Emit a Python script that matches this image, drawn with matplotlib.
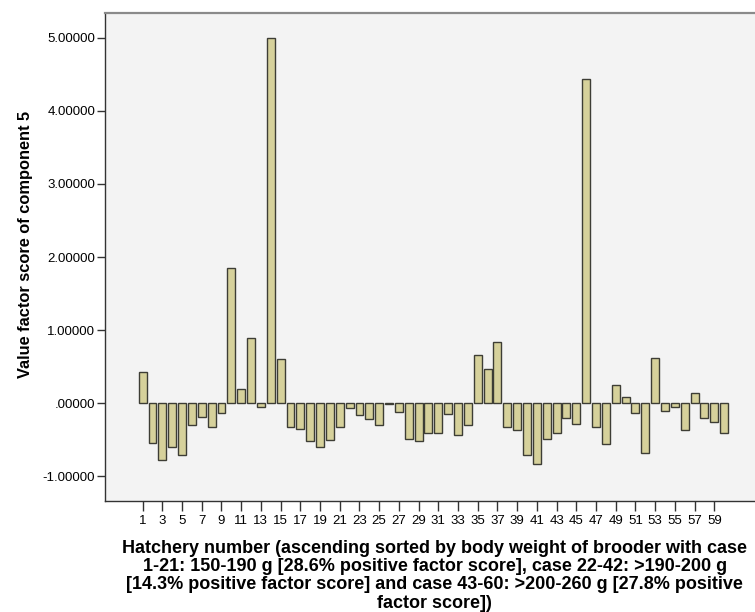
import numpy as np
import matplotlib.pyplot as plt
from matplotlib.ticker import FuncFormatter

# factor score of component 5 per hatchery (cases sorted by brooder body weight)
hatchery = np.arange(1, 61)
factor_score = [
    0.43, -0.54, -0.77, -0.60, -0.71, -0.30, -0.19, -0.33, -0.13, 1.85,
    0.20, 0.90, -0.05, 5.00, 0.61, -0.33, -0.35, -0.52, -0.59, -0.50,
    -0.32, -0.07, -0.16, -0.22, -0.30, -0.01, -0.12, -0.49, -0.52, -0.40,
    -0.41, -0.15, -0.43, -0.30, 0.66, 0.47, 0.84, -0.32, -0.36, -0.70,
    -0.83, -0.49, -0.40, -0.20, -0.28, 4.44, -0.33, -0.55, 0.25, 0.09,
    -0.13, -0.68, 0.62, -0.10, -0.05, -0.36, 0.14, -0.20, -0.26, -0.41,
]
tick_cases = list(range(1, 60, 2))
y_ticks = [-1, 0, 1, 2, 3, 4, 5]

xlabel = ('Hatchery number (ascending sorted by body weight of brooder with case\n'
          '1-21: 150-190 g [28.6% positive factor score], case 22-42: >190-200 g\n'
          '[14.3% positive factor score] and case 43-60: >200-260 g [27.8% positive\n'
          'factor score])')

plt.rcParams['font.family'] = ['Liberation Sans', 'DejaVu Sans']

fig = plt.figure(figsize=(7.55, 6.12), dpi=100)
ax = fig.add_axes([0.139, 0.182, 0.870, 0.797])
ax.set_facecolor('#f3f3f3')

ax.bar(hatchery, factor_score, width=0.8, color='#d6d19b',
       edgecolor='#3d3d35', linewidth=1.0, zorder=3)

ax.set_xlim(-2.82, 63.82)
ax.set_ylim(-1.33, 5.34)

ax.set_xticks(tick_cases)
ax.set_xticklabels([str(c) for c in tick_cases],
                   family=['Liberation Sans Narrow', 'Liberation Sans'], fontsize=9.5)
ax.set_yticks(y_ticks)
ax.yaxis.set_major_formatter(FuncFormatter(
    lambda v, p: '.00000' if v == 0 else f'{v:.5f}'))
ax.tick_params(axis='y', labelsize=9.5, length=6, width=1, color='#333333', pad=1)
ax.tick_params(axis='x', length=7, width=1, color='#333333', pad=3)

for side in ['left', 'bottom']:
    ax.spines[side].set_color('#333333')
    ax.spines[side].set_linewidth(1)
ax.spines['top'].set_color('#8a8a8a')
ax.spines['top'].set_linewidth(1.6)
ax.spines['right'].set_visible(False)

ax.set_ylabel('Value factor score of component 5', fontsize=11.8, fontweight='bold')
ax.yaxis.set_label_coords(-0.110, 0.526, transform=ax.transAxes)

ax.set_xlabel(xlabel, fontsize=13, fontweight='bold', linespacing=1.1)
ax.xaxis.set_label_coords(0.502, -0.080, transform=ax.transAxes)
ax.xaxis.label.set_verticalalignment('top')

fig.savefig('out.png', dpi=100, facecolor='white')
